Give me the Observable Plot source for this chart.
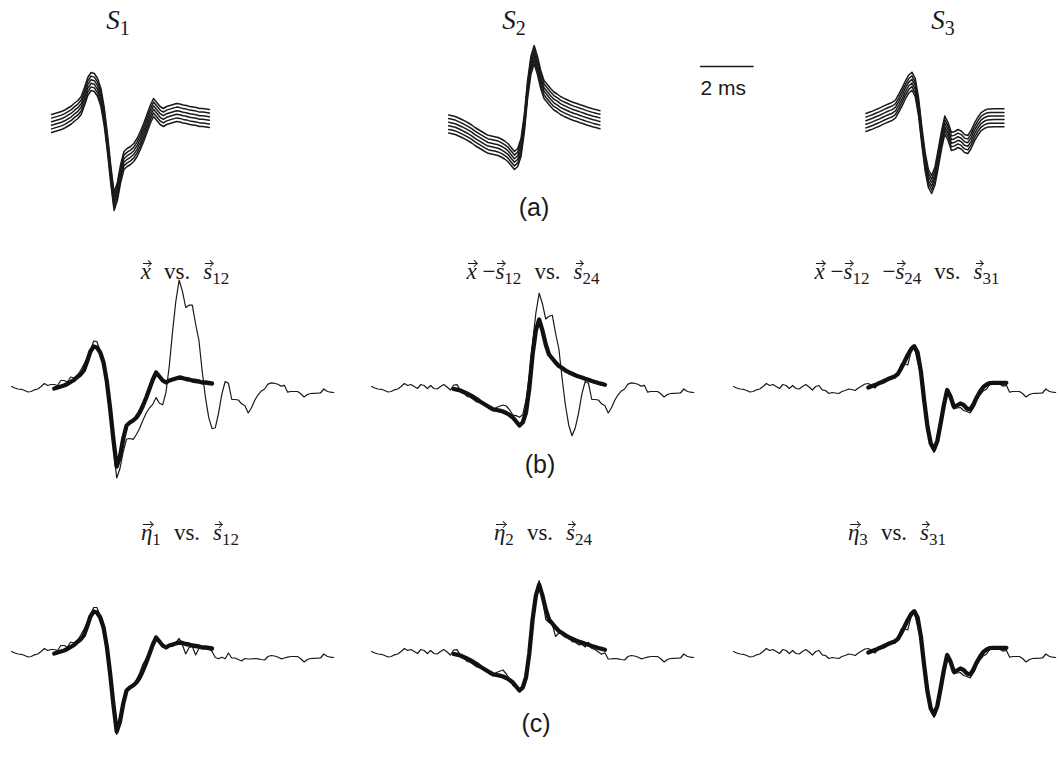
<!DOCTYPE html>
<html>
<head>
<meta charset="utf-8">
<script src="https://cdn.jsdelivr.net/npm/d3@7"></script>
<script src="https://cdn.jsdelivr.net/npm/@observablehq/plot@0.6"></script>
<style>
  html, body { margin: 0; padding: 0; background: #fff; }
  #fig { position: relative; width: 1060px; height: 757px; overflow: hidden; background: #fff; color: #1a1a1a; }
  .ttl { position: absolute; width: 400px; text-align: center; white-space: nowrap; font-family: "Liberation Serif", "DejaVu Serif", serif; font-size: 23px; line-height: 23px; z-index: 5; }
  .ttlA { font-size: 27px; line-height: 27px; }
  .ttl i { font-style: italic; }
  .ttl sub { font-size: 0.74em; vertical-align: -0.3em; line-height: 0; font-style: normal; }
  .v { position: relative; display: inline-block; font-style: italic; }
  .v::before { content: ""; position: absolute; left: 2px; right: 0px; top: 3px; height: 0; border-top: 1.1px solid #1a1a1a; }
  .v::after { content: ""; position: absolute; right: 0px; top: 1.4px; width: 3.6px; height: 3.6px; border-top: 1.1px solid #1a1a1a; border-right: 1.1px solid #1a1a1a; transform: rotate(45deg); }
  .gap { display: inline-block; width: 13px; }
  .lbl { position: absolute; width: 80px; text-align: center; font-family: "Liberation Sans", Arial, sans-serif; font-size: 25px; line-height: 25px; z-index: 5; }
</style>
</head>
<body>
<div id="fig"></div>
<script>
// ---------------- data ----------------
const dtMs = 0.125; // sample interval, ms

// background noise shared by every recorded trace (arbitrary units, positive = up)
const noise = [
  4, 2.5, 1.5, 1.2, 0, -1.5, -1, 0.7, 1.5, 4,
  7, 5, 6, 4, 2, 6, 5, 2, 5, 2,
  1.5, 4, 6, 3.5, 0.5, 4, 5, 0.7, 0, -3,
  -2, -2.5, -3, -1, 0, 1.5, 1, 0, 2.5, 4.5,
  6.5, 4, 1, -3, -1, 0, -2, 1, 0, -2,
  1, 4, -2, -10, -3, -1, -9, -2, -1, 1,
  0, -3, -2, -3.3, -1.8, -3.3, 2.5, -2.5, -2.5, -4,
  -5.5, -3, -3.5, -3.3, -3, -3.3, -4, -4.5, -1, 0,
  -0.5, -1.5, -3.3, -2.5, -1.7, -1, -1, -1, -3.3, -6.5,
  -4, -3, -2.8, -2.7, -2.5, 1.5, -0.7, -1.7, -2
];

// spike templates S1, S2, S3 (first sample index on the noise time grid)
const s1Start = 13;
const s1Values = [2, 3, 4, 5, 6.5, 8.5, 10.5, 13.5, 16, 20, 29, 39, 44, 43, 38, 28, 9, -18, -49, -76,
  -66, -48, -35, -32, -30, -27, -22, -15, -7, 2, 11, 18, 14, 10, 8, 10, 11, 12, 13, 12.5,
  11.5, 11, 10, 9.5, 9, 8, 8, 7.5, 7];
const s2Start = 25;
const s2Values = [1.5, 0.8, 0, -1.5, -3, -4.7, -6.5, -8.5, -11, -13, -15, -17, -18.8, -19.5, -20.2,
  -21, -22.5, -24.5, -27, -31, -35, -32, -22, 2, 36, 60, 71, 60, 46, 36, 32, 28, 24.5, 22.5, 20,
  18.3, 16.8, 15.3, 14, 13, 11.8, 10.7, 9.5, 8.5, 7.5, 6.7, 5.8];
const s3Start = 41;
const s3Values = [3, 4.2, 5.4, 6.9, 8.2, 9.8, 11.4, 12.8, 14.1, 16.5, 22.3, 28.7, 35.5, 41.3, 44.3,
  38, 19, -10, -36, -53, -59, -50.5, -33, -14.5, 0.5, -6, -16, -15, -13, -14.5, -18, -19, -14,
  -6.7, -1, 3.6, 6, 7.4, 7.6, 7.7, 7.7, 7.7, 7.7];

// row (a): six overlaid copies of each template
const bundleOffsets = [-9, -5.4, -1.8, 1.8, 5.4, 9];
const rowAShiftMs = [-0.1, -0.19, -0.09];

// which templates are still inside each displayed trace
const rowBComponents = [[0, 1, 2], [1, 2], [2]];   // x, x - s12, x - s12 - s24
const rowCComponents = [[0], [1], [2]];            // eta1, eta2, eta3

const templateNames = ["S", "S", "S"];
const templateSubs = ["1", "2", "3"];
const scaleBarMs = [0, 2];
const scaleBarLabel = "2 ms";
const rowLabels = ["(a)", "(b)", "(c)"];

// ---------------- layout ----------------
const PX_PER_MS = 26.3;
const PAD = 4;
const colLeft = [11, 371, 733.3];
const rowBase = [125, 390, 655];
const Y_MIN = -100, Y_MAX = 110;
const PANEL_H = Y_MAX - Y_MIN;
const T_END = (noise.length - 1) * dtMs;
const PANEL_W = Math.ceil(T_END * PX_PER_MS + 2 * PAD);
const INK = "#1a1a1a";

const templates = [
  {start: s1Start, values: s1Values},
  {start: s2Start, values: s2Values},
  {start: s3Start, values: s3Values}
];

const fig = document.getElementById("fig");

function valueAt(tmpl, i) {
  const j = i - tmpl.start;
  return (j >= 0 && j < tmpl.values.length) ? tmpl.values[j] : 0;
}
function traceData(components) {
  return noise.map((n, i) => ({t: i * dtMs, v: components.reduce((s, c) => s + valueAt(templates[c], i), n)}));
}
function templateData(c, shift = 0, offset = 0, k = 0) {
  const tm = templates[c];
  return tm.values.map((v, j) => ({k, t: (tm.start + j) * dtMs + shift, v: v + offset}));
}

function panel(marks, left, top) {
  const svg = Plot.plot({
    width: PANEL_W,
    height: PANEL_H,
    margin: 0,
    x: {domain: [0, T_END], range: [PAD, PAD + T_END * PX_PER_MS], axis: null},
    y: {domain: [Y_MIN, Y_MAX], range: [PANEL_H, 0], axis: null},
    style: {background: "transparent", overflow: "visible"},
    marks
  });
  svg.style.position = "absolute";
  svg.style.left = (left - PAD) + "px";
  svg.style.top = (top - Y_MAX) + "px";
  svg.style.maxWidth = "none";
  fig.appendChild(svg);
}

const thick = {x: "t", y: "v", stroke: "#111", strokeWidth: 4.3, strokeLinecap: "round", strokeLinejoin: "round"};
for (let c = 0; c < 3; c++) {
  // row (a)
  const bundle = bundleOffsets.flatMap((off, k) => templateData(c, rowAShiftMs[c], off, k));
  panel([
    Plot.line(bundle, {x: "t", y: "v", z: "k", stroke: INK, strokeWidth: 1.5})
  ], colLeft[c], rowBase[0]);
  // row (b)
  panel([
    Plot.line(traceData(rowBComponents[c]), {x: "t", y: "v", stroke: INK, strokeWidth: 1.2}),
    Plot.line(templateData(c), thick)
  ], colLeft[c], rowBase[1]);
  // row (c)
  panel([
    Plot.line(traceData(rowCComponents[c]), {x: "t", y: "v", stroke: INK, strokeWidth: 1.2}),
    Plot.line(templateData(c), thick)
  ], colLeft[c], rowBase[2]);
}

// scale bar
{
  const bar = scaleBarMs.map(t => ({t, v: 0}));
  const svg = Plot.plot({
    width: 70, height: 60, margin: 0,
    x: {domain: [0, 2], range: [0, 2 * PX_PER_MS], axis: null},
    y: {domain: [-1.4, 1], range: [60, 0], axis: null},
    style: {background: "transparent", overflow: "visible"},
    marks: [
      Plot.line(bar, {x: "t", y: "v", stroke: INK, strokeWidth: 1.4}),
      Plot.text([scaleBarLabel], {x: 0, y: 0, text: d => d, dy: 22, textAnchor: "start", lineAnchor: "middle",
        fontSize: 21, fontFamily: "Liberation Sans, Arial, sans-serif", fill: INK})
    ]
  });
  svg.style.position = "absolute";
  svg.style.left = "700px";
  svg.style.top = (66 - 25) + "px";
  fig.appendChild(svg);
}

// titles
const vec = (sym, sub) => `<span class="v">${sym}</span>${sub ? `<sub>${sub}</sub>` : ""}`;
const gap = `<span class="gap"></span>`;
const vs = `vs.`;
const titlesB = [
  [vec("x"), vs, vec("s", "12")].join(gap),
  [vec("x") + " −" + vec("s", "12"), vs, vec("s", "24")].join(gap),
  [vec("x") + " −" + vec("s", "12"), "−" + vec("s", "24"), vs, vec("s", "31")].join(gap)
];
const titlesC = [
  [vec("η", "1"), vs, vec("s", "12")].join(gap),
  [vec("η", "2"), vs, vec("s", "24")].join(gap),
  [vec("η", "3"), vs, vec("s", "31")].join(gap)
];
const titleCenterA = [118, 514, 943];
const titleCenterB = [185, 533, 907];
const titleCenterC = [190, 543, 897];

function addTitle(html, cx, top, cls) {
  const d = document.createElement("div");
  d.className = "ttl " + (cls || "");
  d.innerHTML = html;
  d.style.left = (cx - 200) + "px";
  d.style.top = top + "px";
  fig.appendChild(d);
}
for (let c = 0; c < 3; c++) {
  addTitle(`<i>${templateNames[c]}</i><sub>${templateSubs[c]}</sub>`, titleCenterA[c], 30 - 22.6, "ttlA");
  addTitle(titlesB[c], titleCenterB[c], 279 - 19.3);
  addTitle(titlesC[c], titleCenterC[c], 540 - 19.3);
}

const labelCenter = [[534, 209.5], [540, 466.5], [536, 726]];
rowLabels.forEach((t, r) => {
  const d = document.createElement("div");
  d.className = "lbl";
  d.textContent = t;
  d.style.left = (labelCenter[r][0] - 40) + "px";
  d.style.top = (labelCenter[r][1] - 14.7) + "px";
  fig.appendChild(d);
});
</script>
</body>
</html>
